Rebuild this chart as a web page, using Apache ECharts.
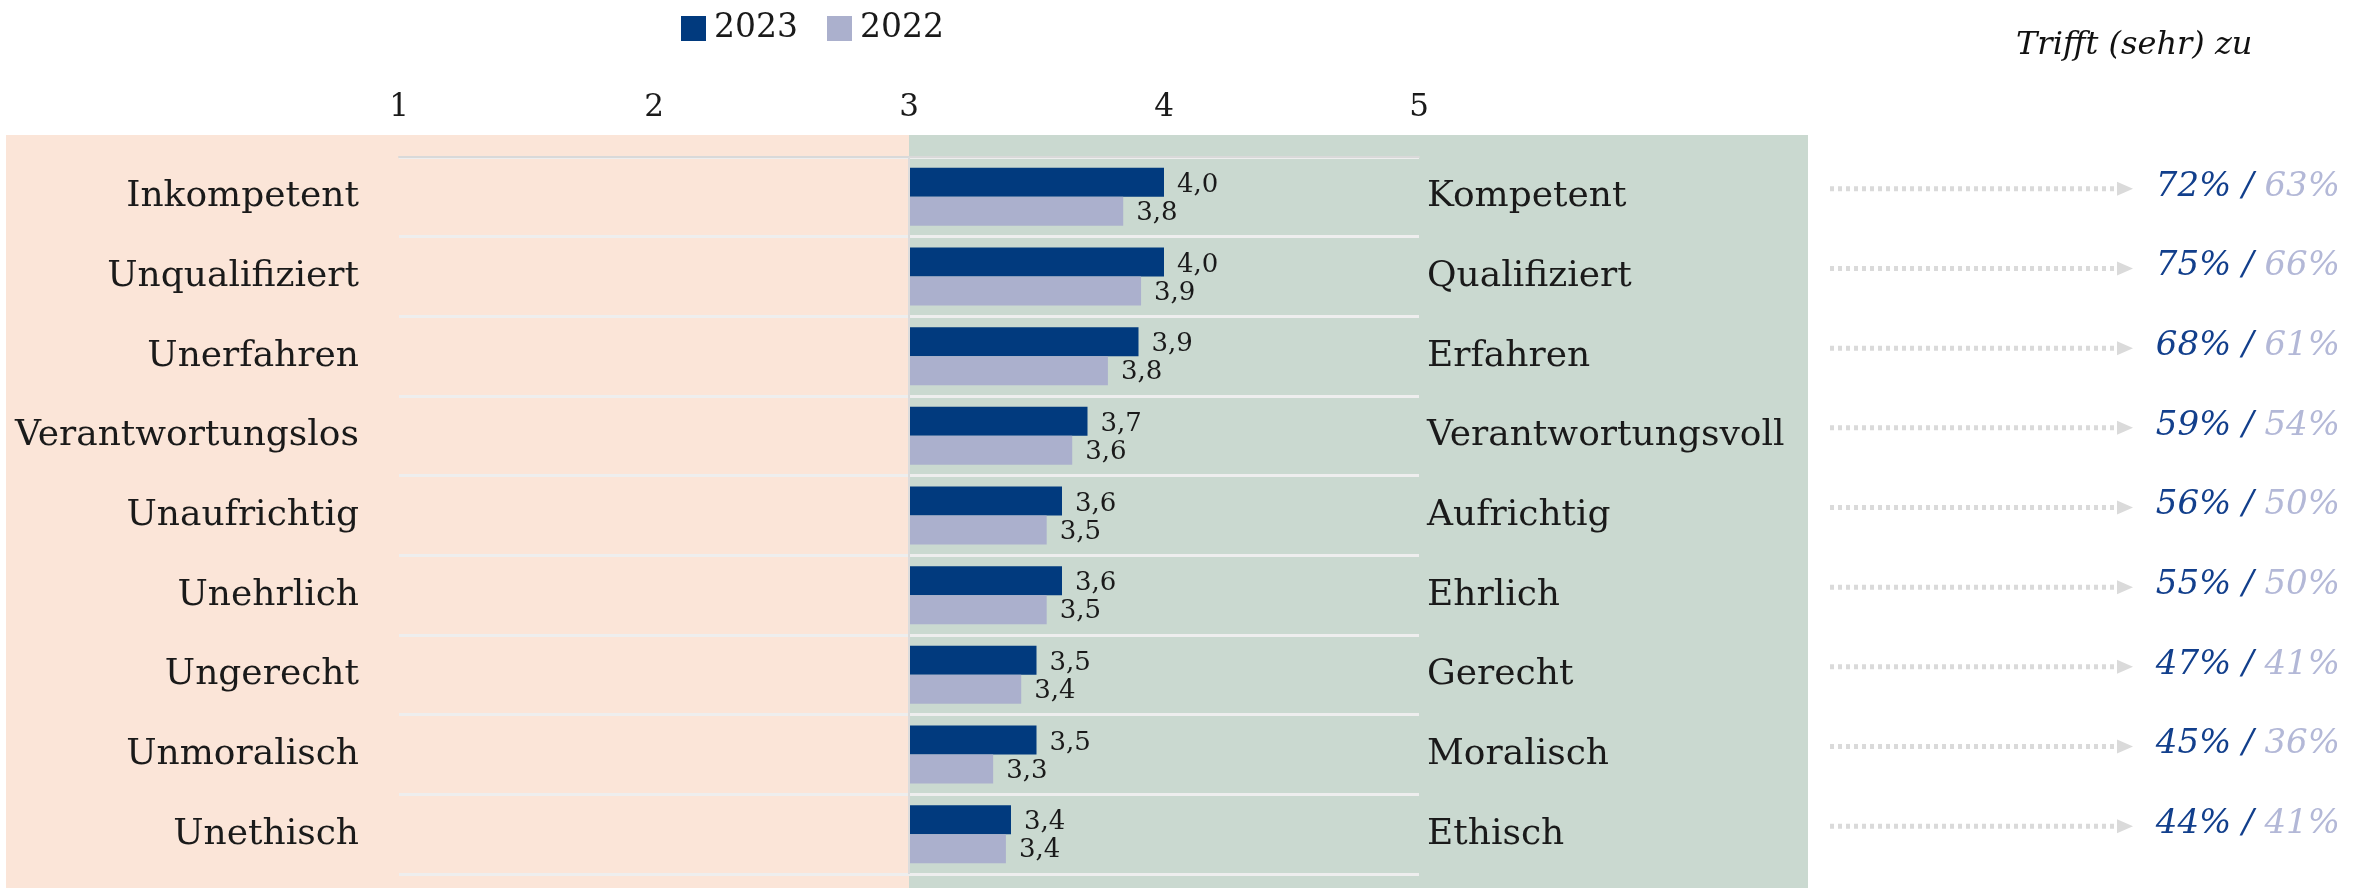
<!DOCTYPE html>
<html lang="de">
<head>
<meta charset="utf-8">
<title>Eigenschaften 2023 / 2022</title>
<script src="https://cdn.jsdelivr.net/npm/echarts@6.0.0/dist/echarts.min.js"></script>
<style>
  html, body { margin: 0; padding: 0; background: #fff; }
  #chart { width: 2363px; height: 888px; }
</style>
</head>
<body>
<div id="chart"></div>
<script>
"use strict";

/* Semantic differential, 1–5 scale. Bars grow from the midpoint 3 toward the
   positive pole; the right column repeats the share of "trifft (sehr) zu". */

const negLabels = ["Inkompetent", "Unqualifiziert", "Unerfahren", "Verantwortungslos",
                   "Unaufrichtig", "Unehrlich", "Ungerecht", "Unmoralisch", "Unethisch"];
const posLabels = ["Kompetent", "Qualifiziert", "Erfahren", "Verantwortungsvoll",
                   "Aufrichtig", "Ehrlich", "Gerecht", "Moralisch", "Ethisch"];
const score2023 = [4.00, 4.00, 3.90, 3.70, 3.60, 3.60, 3.50, 3.50, 3.40];
const score2022 = [3.84, 3.91, 3.78, 3.64, 3.54, 3.54, 3.44, 3.33, 3.38];
const agree2023 = [72, 75, 68, 59, 56, 55, 47, 45, 44];
const agree2022 = [63, 66, 61, 54, 50, 50, 41, 36, 41];
const scaleTicks = [1, 2, 3, 4, 5];
const MID = 3;

const FONT = "'DejaVu Serif', serif";
const INK = "#1a1a1a";
const DARK = "#013a7e", LIGHT = "#abb0cd";
const PCT_DARK = "#123f8c", PCT_LIGHT = "#b3b8d7";
const PINK = "#fbe5d8", GREEN = "#cad9d0";
const BAR_H = 29;

const fmt = (v) => v.toFixed(1).replace(".", ",");

// one custom renderer per year: 2023 sits above the band centre, 2022 below
const barRenderer = (upper) => (params, api) => {
  const cat = api.value(1);
  const from = api.coord([MID, cat]);
  const to = api.coord([api.value(0), cat]);
  const y = upper ? from[1] - BAR_H : from[1];
  return {
    type: "group",
    children: [
      { type: "rect",
        shape: { x: from[0], y, width: to[0] - from[0], height: BAR_H },
        style: { fill: api.visual("color") } },
      { type: "text", x: to[0] + 13, y: y + BAR_H / 2 + (upper ? 3 : 2),
        style: { text: fmt(api.value(0)), fill: INK, fontSize: 26, fontFamily: FONT,
                 verticalAlign: "middle" } },
    ],
  };
};

const agreeRenderer = (params, api) => {
  const cs = params.coordSys;
  const cy = api.coord([0, api.value(0)])[1];
  const ly = cy - 8;
  const tip = cs.x + 303;
  return {
    type: "group",
    children: [
      { type: "line", shape: { x1: cs.x, y1: ly, x2: tip - 16, y2: ly },
        style: { stroke: "#dadada", lineWidth: 5, lineDash: [4, 4] } },
      { type: "polygon",
        shape: { points: [[tip - 16, ly - 7], [tip, ly], [tip - 16, ly + 7]] },
        style: { fill: "#dadada" } },
      { type: "text", x: cs.x + cs.width, y: cy - 10,
        style: {
          text: `{a|${api.value(1)}%} {s|/} {b|${api.value(2)}%}`,
          align: "right", verticalAlign: "middle",
          fontSize: 34, fontFamily: FONT, fontStyle: "italic",
          rich: {
            a: { fill: PCT_DARK, fontSize: 34, fontFamily: FONT, fontStyle: "italic" },
            s: { fill: PCT_DARK, fontSize: 34, fontFamily: FONT, fontStyle: "italic" },
            b: { fill: PCT_LIGHT, fontSize: 34, fontFamily: FONT, fontStyle: "italic" },
          },
        } },
    ],
  };
};

const catAxis = {
  type: "category", inverse: true,
  axisLine: { show: false }, axisTick: { show: false },
};

const option = {
  animation: false,
  textStyle: { fontFamily: FONT, color: INK },
  title: {
    text: "Trifft (sehr) zu", left: 2016, top: 30, padding: 0,
    textStyle: { fontFamily: FONT, fontSize: 32, fontStyle: "italic",
                 fontWeight: "normal", color: "#111" },
  },
  legend: {
    data: ["2023", "2022"], left: 681, top: 12, padding: 0, itemGap: 29,
    icon: "rect", itemWidth: 25, itemHeight: 25,
    textStyle: { fontFamily: FONT, fontSize: 33, color: INK, padding: [0, 0, 0, 3] },
  },
  grid: [
    { left: 399, right: 944, top: 157, bottom: 14 },
    { left: 1830, right: 23, top: 157, bottom: 14 },
  ],
  xAxis: [
    { type: "value", gridIndex: 0, position: "top",
      min: scaleTicks[0], max: scaleTicks[scaleTicks.length - 1], interval: 1,
      axisLine: { show: true, lineStyle: { color: "#d9d9d9", width: 2 } },
      axisTick: { show: false }, splitLine: { show: false },
      axisLabel: { margin: 34, fontSize: 31, fontFamily: FONT, color: INK } },
    { type: "value", gridIndex: 1, min: 0, max: 1, show: false },
  ],
  yAxis: [
    { ...catAxis, gridIndex: 0, position: "left", data: negLabels,
      axisLabel: { margin: 40, fontSize: 36, fontFamily: FONT, color: INK },
      splitLine: { show: true, lineStyle: { color: "#eeeeee", width: 3 } } },
    { ...catAxis, gridIndex: 0, position: "right", data: posLabels,
      axisLabel: { margin: 8, fontSize: 36, fontFamily: FONT, color: INK } },
    { ...catAxis, gridIndex: 1, data: posLabels, show: false },
  ],
  series: [
    { name: "2023", type: "custom", xAxisIndex: 0, yAxisIndex: 0,
      itemStyle: { color: DARK }, encode: { x: 0, y: 1 },
      data: score2023.map((v, i) => [v, i]), renderItem: barRenderer(true),
      markLine: { silent: true, symbol: "none", label: { show: false },
                  lineStyle: { color: "#dcdcdc", width: 2, type: "solid" },
                  data: [{ xAxis: MID }] } },
    { name: "2022", type: "custom", xAxisIndex: 0, yAxisIndex: 0,
      itemStyle: { color: LIGHT }, encode: { x: 0, y: 1 },
      data: score2022.map((v, i) => [v, i]), renderItem: barRenderer(false) },
    { name: "agree", type: "custom", xAxisIndex: 1, yAxisIndex: 2,
      encode: { y: 0 }, silent: true,
      data: agree2023.map((p, i) => [i, p, agree2022[i]]), renderItem: agreeRenderer },
  ],
};

const chart = echarts.init(document.getElementById("chart"));
chart.setOption(option);

// pole backgrounds: split at the scale midpoint, read back from the axis
const split = chart.convertToPixel({ xAxisIndex: 0 }, MID);
chart.setOption({
  graphic: [
    { type: "rect", z: -10, silent: true,
      shape: { x: 6, y: 135, width: split - 6, height: 888 - 135 }, style: { fill: PINK } },
    { type: "rect", z: -10, silent: true,
      shape: { x: split, y: 135, width: 1808 - split, height: 888 - 135 }, style: { fill: GREEN } },
  ],
});
</script>
</body>
</html>
